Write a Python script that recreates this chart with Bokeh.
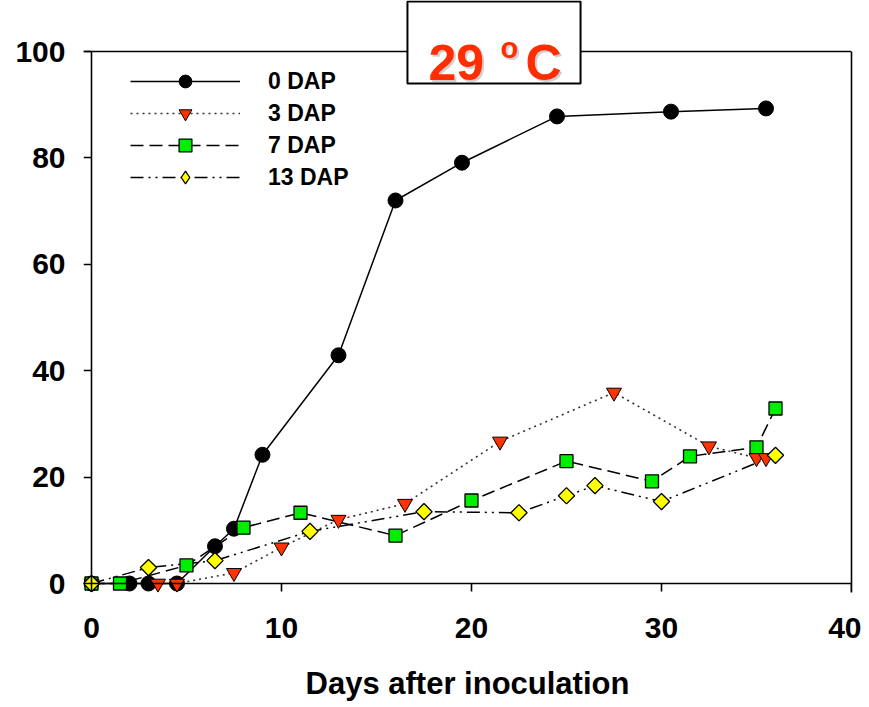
import math
from bokeh.plotting import figure
from bokeh.models import (LinearAxis, Legend, LegendItem, BoxAnnotation, Label, Span,
                          FixedTicker, Range1d)
from bokeh.embed import file_html
from bokeh.resources import INLINE

# ---- data ----
x_0dap = [0, 2, 3, 4.5, 6.5, 7.5, 9, 13, 16, 19.5, 24.5, 30.5, 35.5]
y_0dap = [0, 0, 0, 0, 7.0, 10.3, 24.2, 42.9, 72.0, 79.1, 87.8, 88.7, 89.3]

x_3dap = [0, 3.5, 4.5, 7.5, 10, 13, 16.5, 21.5, 27.5, 32.5, 35, 35.5]
y_3dap = [0, 0, 0, 2.0, 6.8, 12.0, 15.0, 26.7, 35.9, 25.8, 23.6, 23.6]

x_7dap = [0, 1.5, 5, 8, 11, 16, 20, 25, 29.5, 31.5, 35, 36]
y_7dap = [0, 0, 3.4, 10.5, 13.3, 9.0, 15.6, 23.0, 19.2, 23.9, 25.6, 32.9]

x_13dap = [0, 3, 6.5, 11.5, 17.5, 22.5, 25, 26.5, 30, 36]
y_13dap = [0, 3.0, 4.3, 9.8, 13.5, 13.3, 16.5, 18.4, 15.4, 24.1]

series_labels = ["0 DAP", "3 DAP", "7 DAP", "13 DAP"]
x_ticks = [0, 10, 20, 30, 40]
y_ticks = [0, 20, 40, 60, 80, 100]
x_max = 40
y_max = 100
x_label = "Days after inoculation"
title_main = "29"
title_sup = "o"
title_unit = "C"

FONT = "Liberation Sans"
X_PAD = -0.42   # small padding so markers at the origin are not clipped
Y_PAD = -1.69

p = figure(frame_width=768, frame_height=592, output_backend="svg", toolbar_location=None,
           x_range=Range1d(X_PAD, x_max), y_range=Range1d(Y_PAD, 109.59),
           min_border_left=83, min_border_right=10, min_border_top=0,
           min_border_bottom=107)
p.outline_line_color = None
p.grid.visible = False
p.background_fill_color = "white"

# label-only axes at the frame edges
xa = p.xaxis[0]
ya = p.yaxis[0]
for ax in (xa, ya):
    ax.axis_line_color = None
    ax.major_tick_line_color = None
    ax.major_tick_out = 0
    ax.major_tick_in = 0
    ax.minor_tick_line_color = None
    ax.major_label_text_font = FONT
    ax.major_label_text_font_style = "bold"
    ax.major_label_text_font_size = "30px"
    ax.major_label_text_color = "black"
xa.ticker = FixedTicker(ticks=x_ticks)
ya.ticker = FixedTicker(ticks=y_ticks)
xa.major_label_standoff = 25
ya.major_label_standoff = 18
xa.axis_label = x_label
xa.axis_label_text_font = FONT
xa.axis_label_text_font_style = "bold"
xa.axis_label_text_font_size = "31px"
xa.axis_label_text_color = "black"
xa.axis_label_standoff = 25

# axis lines + tick marks drawn at the zero lines (ticks as label-less minor ticks)
def line_axis(ticks, bounds):
    return LinearAxis(fixed_location=0, bounds=bounds,
                      ticker=FixedTicker(ticks=[], minor_ticks=ticks),
                      axis_line_color="black", axis_line_width=1.6,
                      major_tick_line_color=None, major_tick_out=0, major_tick_in=0,
                      minor_tick_line_color="black", minor_tick_line_width=1.6,
                      minor_tick_out=8, minor_tick_in=0, major_label_standoff=0)

p.add_layout(line_axis(x_ticks, (0, x_max)), "below")
p.add_layout(line_axis(y_ticks, (0, y_max)), "left")

# frame: right edge line and top line
right_ax = LinearAxis(bounds=(Y_PAD, y_max), ticker=FixedTicker(ticks=[]),
                      axis_line_color="black", axis_line_width=1.6,
                      major_tick_line_color=None, minor_tick_line_color=None,
                      major_label_standoff=0)
p.add_layout(right_ax, "right")
p.add_layout(Span(location=y_max, dimension="width", line_color="black", line_width=1.6))

# lines
l0 = p.line(x_0dap, y_0dap, line_color="black", line_width=1.5)
l3 = p.line(x_3dap, y_3dap, line_color="#333333", line_width=1.6, line_dash="2 4")
l7 = p.line(x_7dap, y_7dap, line_color="black", line_width=1.5, line_dash="13 6")
l13 = p.line(x_13dap, y_13dap, line_color="black", line_width=1.5, line_dash="13 5 2 5 2 5")

# markers
m0 = p.scatter(x_0dap, y_0dap, marker="circle", size=15, fill_color="black", line_color="black")
m7 = p.scatter(x_7dap, y_7dap, marker="square", size=13, fill_color="#00ee00",
               line_color="black", line_width=1.3)
m3 = p.scatter(x_3dap, y_3dap, marker="inverted_triangle", size=15, fill_color="#ff3300",
               line_color="black", line_width=1.0)
# small diamonds (hidden under the rotated squares) give the legend its diamond,
# since the legend ignores a marker's angle
m13_leg = p.scatter(x_13dap, y_13dap, marker="diamond", size=13,
                    fill_color="#ffff00", line_color="black", line_width=1.3)
m13 = p.scatter(x_13dap, y_13dap, marker="square", angle=math.pi / 4, size=11.5,
                fill_color="#ffff00", line_color="black", line_width=1.3)

legend = Legend(items=[
    LegendItem(label=series_labels[0], renderers=[l0, m0]),
    LegendItem(label=series_labels[1], renderers=[l3, m3]),
    LegendItem(label=series_labels[2], renderers=[l7, m7]),
    LegendItem(label=series_labels[3], renderers=[l13, m13_leg]),
], location=(47, 399))
legend.border_line_color = None
legend.background_fill_alpha = 0
legend.padding = 0
legend.margin = 0
legend.spacing = 0
legend.glyph_width = 110
legend.glyph_height = 32
legend.label_height = 32
legend.label_standoff = 28
legend.label_text_font = FONT
legend.label_text_font_style = "bold"
legend.label_text_font_size = "23px"
legend.label_text_color = "black"
legend.label_text_baseline = "middle"
p.add_layout(legend, "center")

# title box "29 oC"
box = BoxAnnotation(left=16.63, right=25.74, bottom=93.98, top=109.4,
                    fill_color="white", fill_alpha=1.0,
                    line_color="black", line_alpha=1.0, line_width=2)
p.add_layout(box)

RED = "#ff2d00"
for dx, dy, col, alpha in ((2, -2, "#b0b0b0", 0.6), (0, 0, RED, 1.0)):
    p.add_layout(Label(x=17.74, y=97.93, text=title_main, text_font=FONT,
                       text_font_style="bold", text_font_size="50px",
                       text_color=col, text_alpha=alpha, text_baseline="alphabetic",
                       x_offset=dx, y_offset=dy))
    p.add_layout(Label(x=21.53, y=100.75, text=title_sup, text_font=FONT,
                       text_font_style="bold", text_font_size="29px",
                       text_color=col, text_alpha=alpha, text_baseline="alphabetic",
                       x_offset=dx, y_offset=dy))
    p.add_layout(Label(x=22.84, y=97.93, text=title_unit, text_font=FONT,
                       text_font_style="bold", text_font_size="50px",
                       text_color=col, text_alpha=alpha, text_baseline="alphabetic",
                       x_offset=dx, y_offset=dy))

open("out.html", "w").write(file_html(p, INLINE))
